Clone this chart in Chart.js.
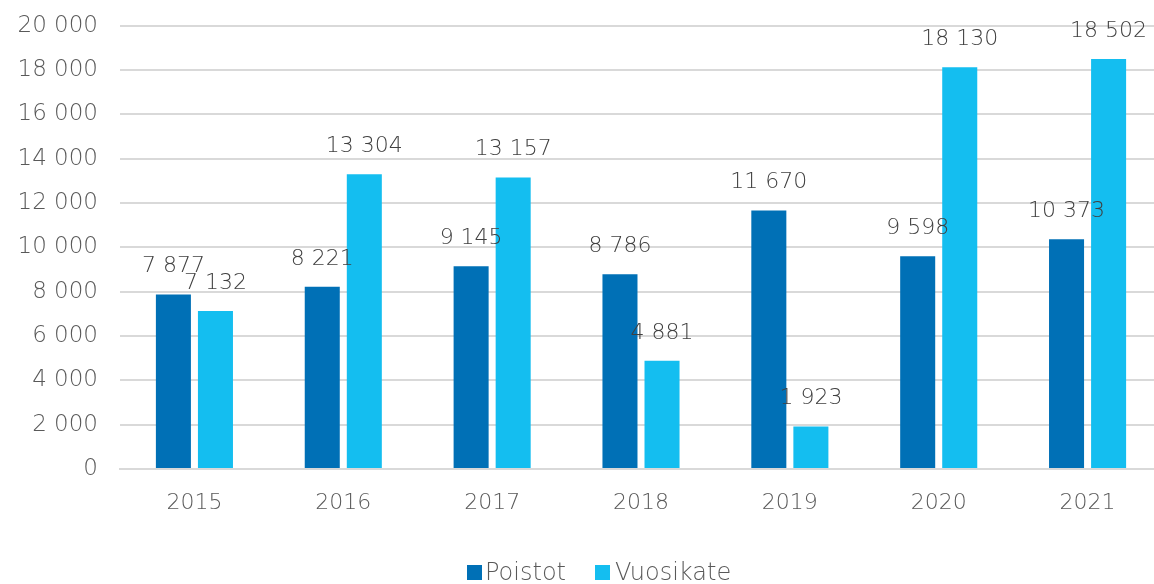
<!DOCTYPE html>
<html>
<head>
<meta charset="utf-8">
<script src="https://cdn.jsdelivr.net/npm/chart.js@4/dist/chart.umd.min.js"></script>
<style>
  html, body { margin: 0; padding: 0; background: #fff; overflow: hidden; }
  #clip { position: relative; width: 1154px; height: 584px; overflow: hidden; }
  #wrap { width: 1162px; height: 594px; margin-top: -10px; }
  .lg-box { position: absolute; top: 565px; width: 15px; height: 15px; }
  .lg-text { position: absolute; top: 560px; font: 200 24px/24px "DejaVu Sans", sans-serif;
             color: #595959; white-space: nowrap; }
</style>
</head>
<body>
<div id="clip">
  <div id="wrap"><canvas id="taloChart"></canvas></div>
  <div id="legend"></div>
</div>
<script>
// Poistot ja vuosikate 2015-2021
const years = ['2015', '2016', '2017', '2018', '2019', '2020', '2021'];
const poistot = [7877, 8221, 9145, 8786, 11670, 9598, 10373];
const vuosikate = [7132, 13304, 13157, 4881, 1923, 18130, 18502];
const yTicks = [0, 2000, 4000, 6000, 8000, 10000, 12000, 14000, 16000, 18000, 20000];

const fontFamily = '"DejaVu Sans", sans-serif';
const textColor = '#595959';

// finnish style thousands: "13 304"
function fmt(v) {
    return String(v).replace(/\B(?=(\d{3})+(?!\d))/g, ' ');
}

// draw value labels above every bar
const barLabels = {
    id: 'barLabels',
    afterDatasetsDraw(chart) {
        const ctx = chart.ctx;
        ctx.save();
        ctx.font = '200 22px ' + fontFamily;
        ctx.fillStyle = '#404040';
        ctx.textAlign = 'center';
        ctx.textBaseline = 'middle';
        chart.data.datasets.forEach((ds, i) => {
            const meta = chart.getDatasetMeta(i);
            meta.data.forEach((bar, j) => {
                ctx.fillText(fmt(ds.data[j]), bar.x, bar.y - 28);
            });
        });
        ctx.restore();
    }
};

const ctx = document.getElementById('taloChart');
const chart = new Chart(ctx, {
    type: 'bar',
    data: {
        labels: years,
        datasets: [
            { label: 'Poistot', data: poistot, backgroundColor: '#0070B6' },
            { label: 'Vuosikate', data: vuosikate, backgroundColor: '#14BEF0' }
        ]
    },
    options: {
        responsive: true,
        maintainAspectRatio: false,
        animation: false,
        categoryPercentage: 0.565,
        barPercentage: 0.833,
        layout: { padding: { top: 5, right: 0, left: 0, bottom: 51 } },
        plugins: {
            tooltip: { enabled: false },
            legend: { display: false }
        },
        scales: {
            x: {
                grid: { display: false },
                border: { color: '#d9d9d9', width: 2 },
                ticks: {
                    color: textColor,
                    padding: 13,
                    font: { size: 22, family: fontFamily, weight: 200 }
                },
                afterFit(scale) { scale.height = 64; }
            },
            y: {
                min: 0,
                max: 20000,
                afterBuildTicks(scale) {
                    scale.ticks = yTicks.map(v => ({ value: v }));
                },
                grid: { color: '#d9d9d9', lineWidth: 2, drawTicks: false },
                border: { display: false },
                ticks: {
                    color: textColor,
                    padding: 22,
                    font: { size: 23, family: fontFamily, weight: 200 },
                    callback: v => fmt(v)
                },
                afterFit(scale) { scale.width = 120; }
            }
        }
    },
    plugins: [barLabels]
});

// html legend under the chart
const legendPos = [[467, 485], [595, 615]];
const legend = document.getElementById('legend');
chart.data.datasets.forEach((ds, i) => {
    const box = document.createElement('div');
    box.className = 'lg-box';
    box.style.left = legendPos[i][0] + 'px';
    box.style.background = ds.backgroundColor;
    const txt = document.createElement('div');
    txt.className = 'lg-text';
    txt.style.left = legendPos[i][1] + 'px';
    txt.textContent = ds.label;
    legend.appendChild(box);
    legend.appendChild(txt);
});
</script>
</body>
</html>
